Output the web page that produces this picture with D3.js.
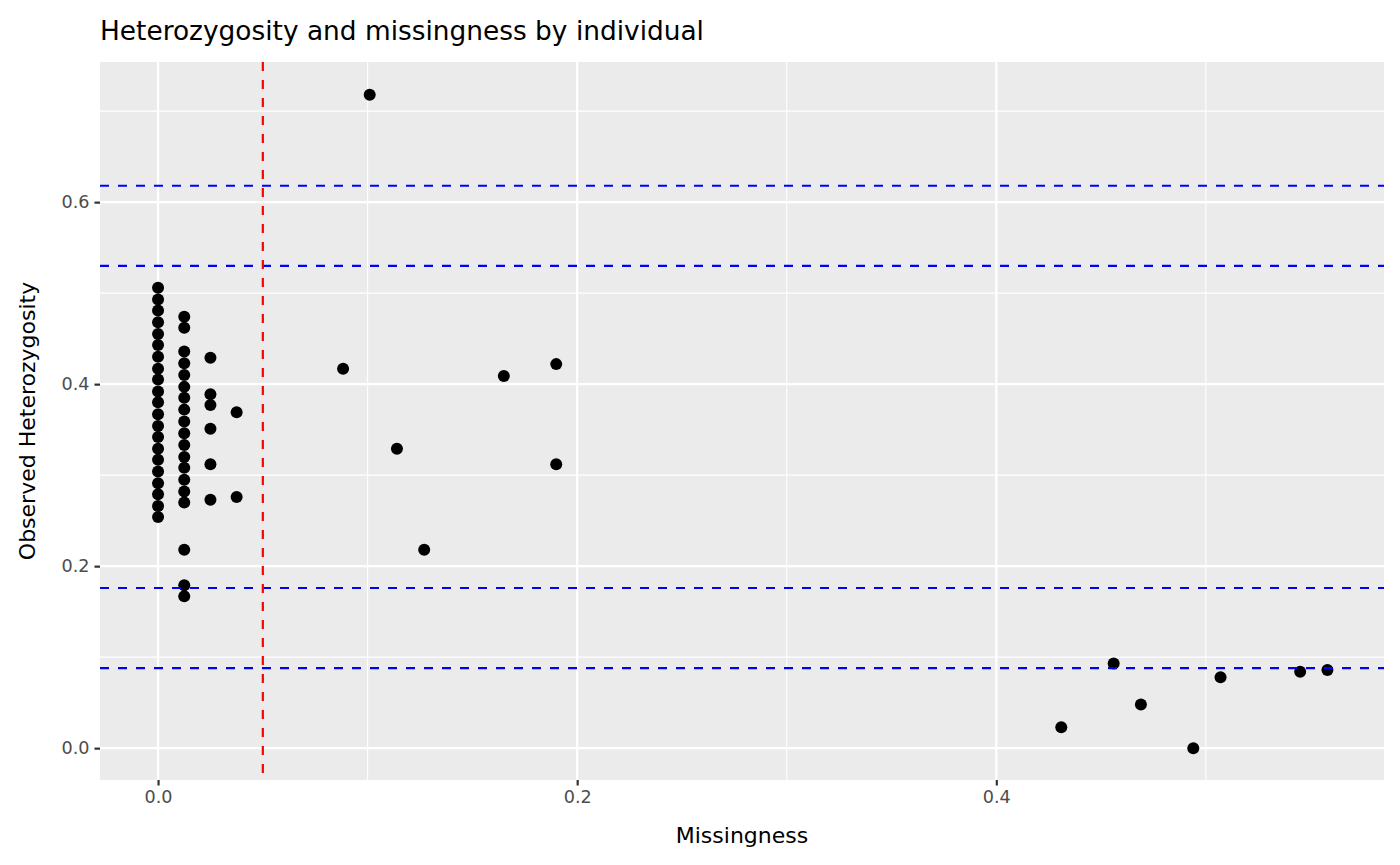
<!DOCTYPE html><html><head><script src="https://cdn.jsdelivr.net/npm/d3@7"></script>
<style>body{margin:0;background:#fff}text{font-family:"DejaVu Sans",sans-serif}</style></head><body><svg width="1400" height="865"></svg><script>
const col0=[0.506,0.493,0.481,0.468,0.455,0.443,0.430,0.417,0.405,0.392,0.380,0.367,0.354,0.342,0.329,0.317,0.304,0.291,0.279,0.266,0.254];
const col1=[0.474,0.462,0.436,0.423,0.410,0.397,0.385,0.372,0.359,0.346,0.333,0.320,0.308,0.295,0.282,0.270,0.218,0.179,0.167];
const col2=[0.429,0.389,0.377,0.351,0.312,0.273];
const col3=[0.369,0.276];
const otherX=[0.101,0.0883,0.114,0.127,0.165,0.190,0.190,0.431,0.456,0.469,0.494,0.507,0.545,0.558];
const otherY=[0.718,0.417,0.329,0.218,0.409,0.422,0.312,0.023,0.093,0.048,0.000,0.078,0.084,0.086];
const hLines=[0.618,0.53,0.176,0.088];
const vLine=0.05;
const xTicks=[0,0.2,0.4], yTicks=[0,0.2,0.4,0.6];
const pts=[...col0.map(y=>[0,y]),...col1.map(y=>[0.0125,y]),...col2.map(y=>[0.025,y]),...col3.map(y=>[0.0375,y]),...otherX.map((x,i)=>[x,otherY[i]])];
const L=100,R=1384,T=62,B=780;
const x=d3.scaleLinear().domain([-0.0277,0.585]).range([L,R]);
const y=d3.scaleLinear().domain([-0.035,0.754]).range([B,T]);
const svg=d3.select("svg");
svg.append("rect").attr("x",L).attr("y",T).attr("width",R-L).attr("height",B-T).attr("fill","#ebebeb");
const g=svg.append("g");
const xm=[-0.1,0.1,0.3,0.5], ym=[0.1,0.3,0.5,0.7];
xm.forEach(v=>{if(x(v)>L&&x(v)<R)g.append("line").attr("x1",x(v)).attr("x2",x(v)).attr("y1",T).attr("y2",B).attr("stroke","#fff").attr("stroke-width",1.1)});
ym.forEach(v=>g.append("line").attr("y1",y(v)).attr("y2",y(v)).attr("x1",L).attr("x2",R).attr("stroke","#fff").attr("stroke-width",1.1));
xTicks.forEach(v=>g.append("line").attr("x1",x(v)).attr("x2",x(v)).attr("y1",T).attr("y2",B).attr("stroke","#fff").attr("stroke-width",2.2));
yTicks.forEach(v=>g.append("line").attr("y1",y(v)).attr("y2",y(v)).attr("x1",L).attr("x2",R).attr("stroke","#fff").attr("stroke-width",2.2));
g.selectAll("circle").data(pts).join("circle").attr("cx",d=>x(d[0])).attr("cy",d=>y(d[1])).attr("r",6).attr("fill","#000");
hLines.forEach(v=>g.append("line").attr("y1",y(v)).attr("y2",y(v)).attr("x1",L).attr("x2",R).attr("stroke","#0000ff").attr("stroke-width",2.2).attr("stroke-dasharray","9,9"));
g.append("line").attr("x1",x(vLine)).attr("x2",x(vLine)).attr("y1",T).attr("y2",B).attr("stroke","#ff0000").attr("stroke-width",2.2).attr("stroke-dasharray","9,9");
const xa=svg.append("g").attr("transform",`translate(0,${B})`).call(d3.axisBottom(x).tickValues(xTicks).tickFormat(d3.format(".1f")).tickSize(5.5).tickPadding(5));
const ya=svg.append("g").attr("transform",`translate(${L},0)`).call(d3.axisLeft(y).tickValues(yTicks).tickFormat(d3.format(".1f")).tickSize(5.5).tickPadding(5));
[xa,ya].forEach(a=>{a.select(".domain").remove();a.selectAll("line").attr("stroke","#333").attr("stroke-width",2.2);a.selectAll("text").attr("fill","#4d4d4d").style("font-size","17.6px")});
svg.append("text").attr("x",(L+R)/2).attr("y",843).attr("text-anchor","middle").style("font-size","22px").text("Missingness");
svg.append("text").attr("transform",`translate(35,${(T+B)/2}) rotate(-90)`).attr("text-anchor","middle").style("font-size","22px").text("Observed Heterozygosity");
svg.append("text").attr("x",L).attr("y",40).style("font-size","26.4px").text("Heterozygosity and missingness by individual");
</script></body></html>
